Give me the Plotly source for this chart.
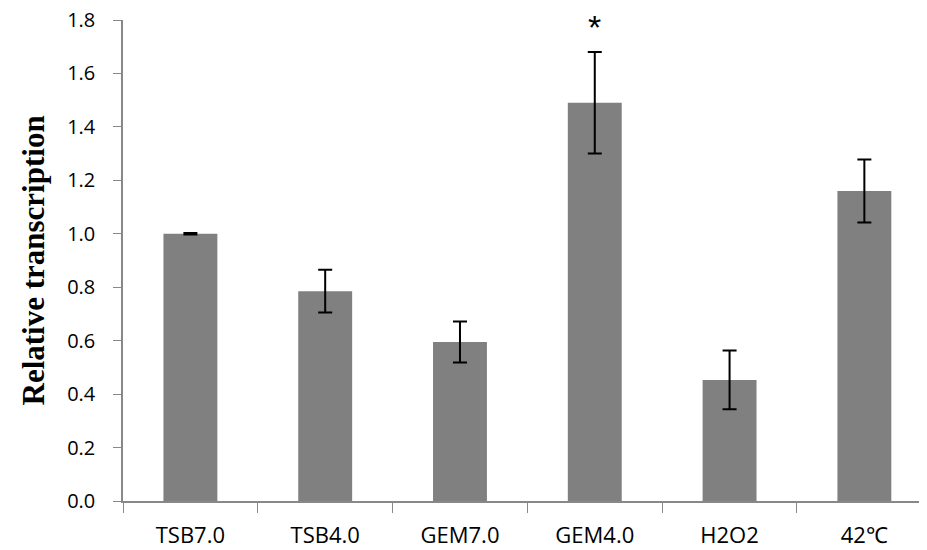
import plotly.graph_objects as go

categories = ["TSB7.0", "TSB4.0", "GEM7.0", "GEM4.0", "H2O2", "42℃"]
values = [1.0, 0.785, 0.595, 1.49, 0.453, 1.16]
errors = [0.003, 0.08, 0.077, 0.19, 0.11, 0.118]
y_ticks = [0.0, 0.2, 0.4, 0.6, 0.8, 1.0, 1.2, 1.4, 1.6, 1.8]
sig_category = "GEM4.0"
sig_mark = "*"

fig = go.Figure()
fig.add_trace(go.Bar(
    x=categories, y=values,
    marker=dict(color="#808080", line=dict(width=0)),
    width=0.4,
    error_y=dict(type="data", array=errors, visible=True, color="black", thickness=2, width=7),
))

fig.add_annotation(x=sig_category, y=1.775, text=sig_mark, showarrow=False,
                   font=dict(family="Liberation Sans", size=34, color="black"),
                   xref="x", yref="y")
fig.add_annotation(x=-0.1125, y=0.5, xref="paper", yref="paper", xanchor="center",
                   text="<b>Relative transcription</b>",
                   textangle=-90, showarrow=False,
                   font=dict(family="Liberation Serif", size=31, color="black"))

fig.update_layout(
    width=919, height=542,
    margin=dict(l=115, r=4, t=12, b=49, autoexpand=False),
    paper_bgcolor="white", plot_bgcolor="white",
    showlegend=False,
)
fig.update_xaxes(
    range=[-0.5, 5.435], automargin=False,
    showline=True, linecolor="#888888", linewidth=1.5,
    ticks="outside", tickson="boundaries", ticklen=10, tickcolor="#888888",
    tickfont=dict(family="Open Sans", size=22, color="black"),
    ticklabelstandoff=14, ticklabeloverflow="allow",
    showgrid=False,
)
fig.update_yaxes(
    range=[0, 1.8], tickvals=y_ticks, tickformat=".1f", automargin=False,
    showline=True, linecolor="#888888", linewidth=1.5,
    ticks="outside", ticklen=8, tickcolor="#888888",
    tickfont=dict(family="Open Sans", size=20, color="black"),
    ticklabelstandoff=14, ticklabeloverflow="allow",
    showgrid=False, zeroline=False,
)

fig.write_html("out.html")
